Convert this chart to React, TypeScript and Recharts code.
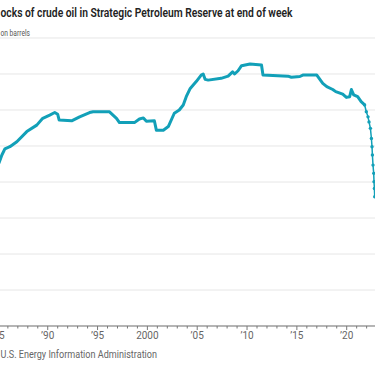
import React from "react";
import { LineChart, Line, XAxis, YAxis, CartesianGrid } from "recharts";

// Weekly SPR stocks, million barrels
const historyYears = [
	1985.1, 1985.4, 1985.7, 1986.2, 1986.9, 1987.9, 1988.9, 1989.5, 1990.2, 1990.7,
	1991.0, 1991.15, 1992.4, 1993.2, 1994.2, 1994.55, 1996.2, 1996.9, 1997.2, 1998.7,
	1999.2, 1999.6, 1999.9, 2000.7, 2000.9, 2001.6, 2002.1, 2002.7, 2003.2, 2003.6,
	2003.9, 2004.3, 2004.9, 2005.4, 2005.6, 2005.8, 2006.1, 2007.4, 2008.1, 2008.55,
	2008.75, 2009.1, 2009.45, 2010.3, 2011.45, 2011.6, 2014.1, 2014.45, 2015.3, 2015.6,
	2017.0, 2017.6, 2018.0, 2018.6, 2018.9, 2019.6, 2019.97, 2020.3, 2020.47, 2020.7,
	2021.1, 2021.45, 2021.8,
];
const historyStocks = [
	452, 475, 492, 498, 512, 540, 558, 577, 586, 593,
	588, 572, 570, 581, 593, 595, 595, 577, 565, 565,
	575, 578, 569, 570, 544, 544, 554, 591, 600, 614,
	637, 660, 679, 697, 700, 685, 683, 688, 694, 706,
	700, 709, 723, 728, 725, 697, 694, 691, 693, 697,
	697, 674, 665, 657, 651, 644, 635, 637, 657, 642,
	637, 623, 614,
];

const recentYears = [
	2021.8, 2021.97, 2022.14, 2022.24, 2022.38, 2022.48, 2022.54, 2022.58, 2022.64,
	2022.71, 2022.74, 2022.78, 2022.81,
];
const recentStocks = [614, 595, 581, 567, 549, 521, 498, 475, 447, 424, 401, 382, 359];

const tickYears = Array.from({ length: 42 }, (_, i) => 1982 + i);
const gridValues = [0, 100, 200, 300, 400, 500, 600, 700, 800];

const historyData = historyYears.map((year, i) => ({ year, stock: historyStocks[i] }));
const recentData = recentYears.map((year, i) => ({ year, stock: recentStocks[i] }));

const LINE = "#12a0b8";
const FONT = "Roboto, 'Noto Sans', sans-serif";

function yearLabel(y: number): string {
	if (y % 5 !== 0) return "";
	if (y === 2000) return "2000";
	return "\u2019" + String(y).slice(2);
}

function YearTick({ x, y, payload }: { x?: number; y?: number; payload?: { value: number } }) {
	if (typeof x !== "number" || typeof y !== "number" || !payload) return null;
	const label = yearLabel(payload.value);
	const major = label !== "";
	return (
		<g>
			<line x1={x} x2={x} y1={y} y2={y + (major ? 4 : 2.5)} stroke="#777" strokeWidth={1} />
			{major && (
				<text x={x} y={y + 13.5} textAnchor="middle" fill="#666" fontSize={10} fontFamily={FONT}>
					{label}
				</text>
			)}
		</g>
	);
}

export default function App() {
	return (
		<div
			style={{
				position: "absolute",
				left: 0,
				top: 0,
				width: 375,
				height: 366,
				overflow: "hidden",
				background: "#fff",
			}}
		>
			<div style={{ position: "absolute", left: -31.7, top: 0 }}>
				<LineChart
					width={408.6}
					height={346}
					margin={{ top: 38, right: 0, bottom: 0, left: 0 }}
				>
					<CartesianGrid horizontal vertical={false} stroke="#e6e6e6" horizontalValues={gridValues} />
					<XAxis
						dataKey="year"
						type="number"
						domain={[1982, 2023]}
						ticks={tickYears}
						interval={0}
						height={20}
						tickSize={0}
						tickMargin={0}
						tickLine={false}
						axisLine={{ stroke: "#777" }}
						tick={<YearTick />}
						allowDuplicatedCategory={false}
					/>
					<YAxis hide width={0} domain={[0, 800]} ticks={gridValues} />
					<Line
						data={historyData}
						dataKey="stock"
						type="linear"
						stroke={LINE}
						strokeWidth={3}
						strokeLinejoin="round"
						dot={false}
						isAnimationActive={false}
					/>
					<Line
						data={recentData}
						dataKey="stock"
						type="linear"
						stroke={LINE}
						strokeWidth={1.5}
						dot={{ r: 1.7, fill: LINE, stroke: "none" }}
						isAnimationActive={false}
					/>
				</LineChart>
			</div>
			<svg width={375} height={366} style={{ position: "absolute", left: 0, top: 0, pointerEvents: "none" }}>
				<text
					x={0.5}
					y={16.7}
					fontSize={12.5}
					fontWeight={600}
					fill="#222"
					fontFamily={FONT}
					textLength={292}
					lengthAdjust="spacingAndGlyphs"
				>
					ocks of crude oil in Strategic Petroleum Reserve at end of week
				</text>
				<text
					x={0.5}
					y={36}
					fontSize={9.5}
					fill="#555"
					fontFamily={FONT}
					textLength={29.5}
					lengthAdjust="spacingAndGlyphs"
				>
					on barrels
				</text>
				<text
					x={0.5}
					y={358}
					fontSize={10.5}
					fill="#666"
					fontFamily={FONT}
					textLength={156.5}
					lengthAdjust="spacingAndGlyphs"
				>
					U.S. Energy Information Administration
				</text>
			</svg>
		</div>
	);
}
